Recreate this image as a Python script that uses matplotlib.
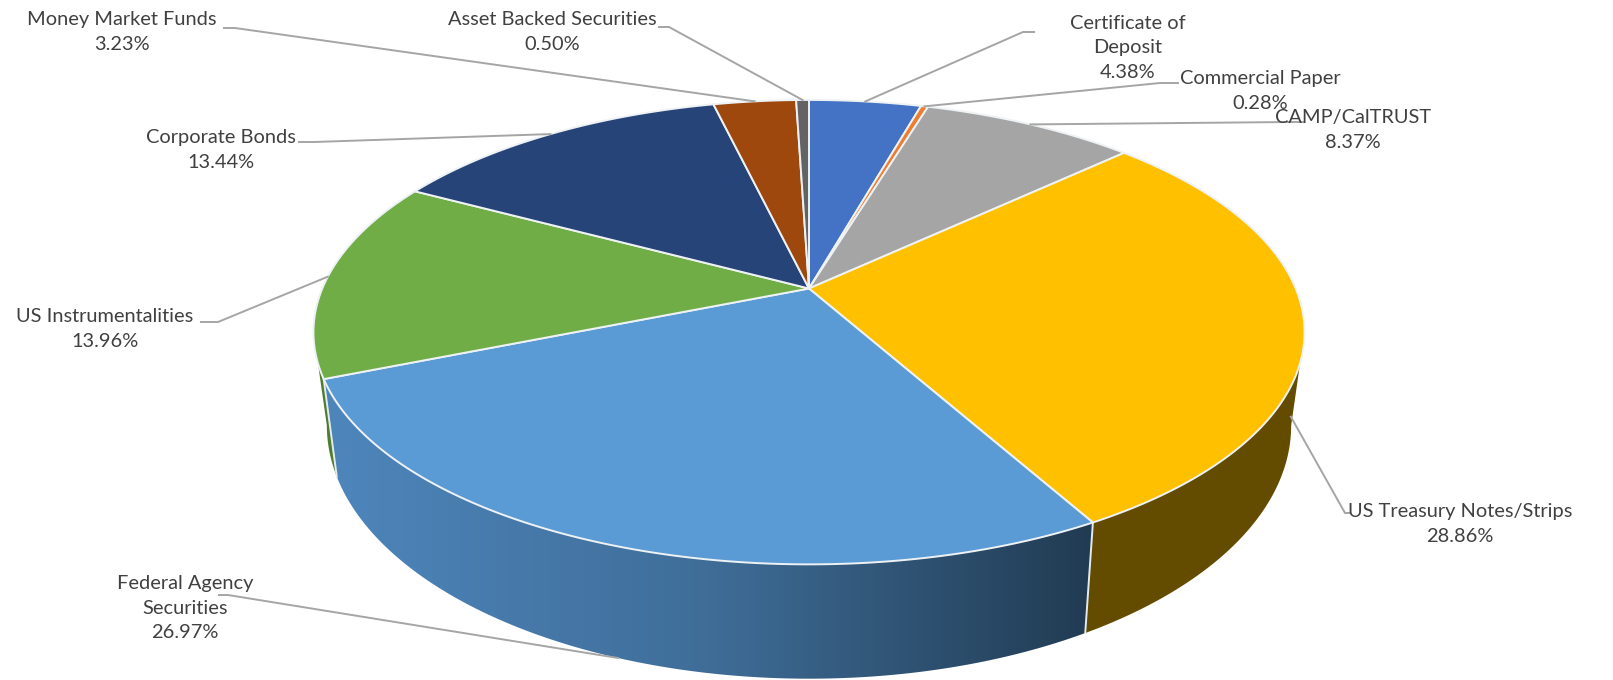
import numpy as np
import matplotlib
matplotlib.use("Agg")
import matplotlib.pyplot as plt
from matplotlib.colors import LinearSegmentedColormap
from matplotlib.patches import Polygon

# slice data, clockwise from 12 o'clock
categories = ["Certificate of\nDeposit", "Commercial Paper", "CAMP/CalTRUST",
              "US Treasury Notes/Strips", "Federal Agency\nSecurities",
              "US Instrumentalities", "Corporate Bonds", "Money Market Funds",
              "Asset Backed Securities"]
values = [4.38, 0.28, 8.37, 28.86, 26.97, 13.96, 13.44, 3.23, 0.50]
top_colors = ["#4472C4", "#ED7D31", "#A5A5A5", "#FFC000", "#5B9BD5",
              "#70AD47", "#264478", "#9E480E", "#636363"]
wall_colors = [None, None, None, "#634B00", "blue", "#4F7D2F", None, None, None]

# label centres and the elbow of each leader line, in pixels
label_x = [1128, 1260, 1353, 1460, 185, 105, 221, 121.5, 552]
label_y = [48, 91, 130, 524, 608, 329, 150, 32, 32]
elbow_start = [(1034, 32), (1178, 83), (1303, 122), (1350, 513), (219, 595),
               (201, 322), (299, 142), (224, 28), (659, 27)]
elbow_mid = [(1023, 32), (1160, 83), (1290, 122), (1345, 513), (228, 595),
             (218, 322), (314, 142), (235, 28), (669, 27)]
use_bottom = [False, False, False, True, True, False, False, False, False]

# projection of the disc
X0, Y0, A, G, K = 809, 288.5, 486.7, 224, 0.188
XS, YB, YS = 0.973, 378, 1.09


def top_rim(t):
    u, v = np.sin(t), np.cos(t)
    d = 1 + K * v
    return X0 + A * u / d, Y0 - G * v / d


def bottom_rim(t):
    x, y = top_rim(t)
    return X0 + XS * (x - X0), YB + YS * (y - Y0)


fig = plt.figure(figsize=(16.13, 6.8), dpi=100)
ax = fig.add_axes([0, 0, 1, 1])

edges = np.radians(np.cumsum([0] + values) / np.sum(values) * 360)
blue_map = LinearSegmentedColormap.from_list("wall", ["#4E86BC", "#3F6D98", "#213B52"])

# the widest points of the rim, the wall outline runs straight between them
t_right = np.pi - np.arccos(K)
t_left = np.pi + np.arccos(K)

# side walls first, the top faces hide whatever is behind them
for i in [5, 3, 4]:
    t = np.linspace(max(edges[i], t_right), min(edges[i + 1], t_left), 200)
    xt, yt = top_rim(t)
    xb, yb = bottom_rim(t)
    pts = np.column_stack([np.r_[xt, xb[::-1]], np.r_[yt, yb[::-1]]])
    if wall_colors[i] == "blue":
        wall = Polygon(pts, closed=True, fc="none", ec="none", transform=ax.transData)
        ax.add_patch(wall)
        im = ax.imshow(np.linspace(0, 1, 256).reshape(1, -1), cmap=blue_map, aspect="auto",
                       extent=[min(xb.min(), xt.min()), max(xb.max(), xt.max()), 680, 0], zorder=1)
        im.set_clip_path(wall)
    else:
        ax.add_patch(Polygon(pts, closed=True, fc=wall_colors[i], ec="none", zorder=1))

# white seams between the walls
for i in [3, 4]:
    sx, sy = top_rim(edges[i + 1])
    bx, by = bottom_rim(edges[i + 1])
    ax.plot([sx, bx], [sy, by], color="#E4EAEE", lw=1.4, zorder=2)

# top faces
for i in range(len(values)):
    t = np.linspace(edges[i], edges[i + 1], 120)
    x, y = top_rim(t)
    pts = np.column_stack([np.r_[X0, x], np.r_[Y0, y]])
    ax.add_patch(Polygon(pts, closed=True, fc=top_colors[i], ec="#EEF2F4", lw=1.4,
                         joinstyle="round", zorder=3))

# labels and leaders
mids = (edges[:-1] + edges[1:]) / 2
for i, name in enumerate(categories):
    ex, ey = bottom_rim(mids[i]) if use_bottom[i] else top_rim(mids[i])
    ax.plot([elbow_start[i][0], elbow_mid[i][0], ex], [elbow_start[i][1], elbow_mid[i][1], ey],
            color="#A5A5A5", lw=1.4, zorder=4, solid_joinstyle="round")
    ax.text(label_x[i], label_y[i], f"{name}\n{values[i]:.2f}%", ha="center", va="center",
            family="Lato", fontsize=14.4, color="#404040", linespacing=1.55, zorder=5)

ax.set_xlim(0, 1613)
ax.set_ylim(680, 0)
ax.axis("off")
fig.savefig("out.png", dpi=100)
